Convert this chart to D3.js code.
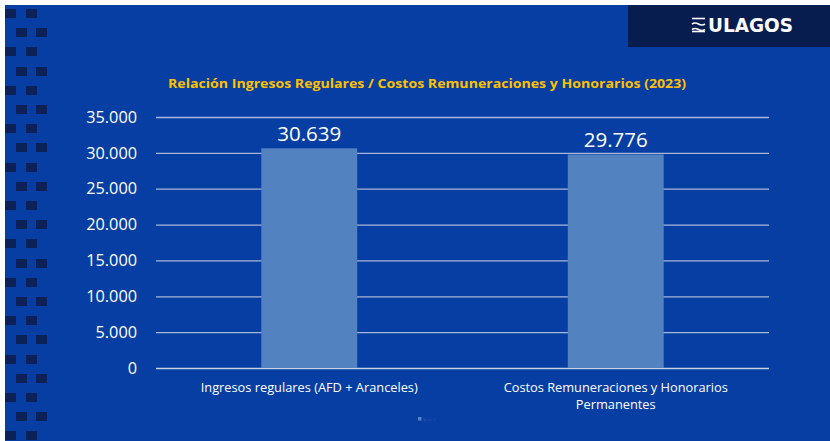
<!DOCTYPE html>
<html>
<head>
<meta charset="utf-8">
<script src="https://cdn.jsdelivr.net/npm/d3@7"></script>
<style>
  body { margin: 0; background: #fff; }
  svg { display: block; }
</style>
</head>
<body>
<div id="chart"></div>
<script>
// --------------------------------------
//  Data
// --------------------------------------

const categories = [
  ["Ingresos regulares (AFD + Aranceles)"],
  ["Costos Remuneraciones y Honorarios", "Permanentes"]
];
const values = [30639, 29776];
const yTicks = [0, 5000, 10000, 15000, 20000, 25000, 30000, 35000];
const title = "Relación Ingresos Regulares / Costos Remuneraciones y Honorarios (2023)";
const seriesName = "Serie 1";

const width = 830, height = 441;
const margin = { top: 117, right: 61, bottom: 73, left: 156 };
const innerwidth = width - margin.left - margin.right;
const innerheight = height - margin.top - margin.bottom;

const fmt = d3.formatLocale({ decimal: ",", thousands: ".", grouping: [3], currency: ["$", ""] }).format(",d");

// --------------------------------------
//  Canvas
// --------------------------------------

const svg = d3.select("#chart")
  .append("svg")
    .attr("width", width)
    .attr("height", height)
    .attr("viewBox", [0, 0, width, height]);

svg.append("rect")
  .attr("x", 5).attr("y", 5)
  .attr("width", width - 5).attr("height", height - 5)
  .attr("fill", "#063ea3");

// decorative squares on the left
const deco = svg.append("g").attr("fill", "#0b2158");
for (let i = 0; i < 23; i++) {
  const y = Math.round(9 + i * 19.2);
  const xs = i % 2 === 0 ? [5, 26] : [16, 36];
  xs.forEach(x => deco.append("rect").attr("x", x).attr("y", y).attr("width", 11).attr("height", 9));
}

// logo box
svg.append("rect")
  .attr("x", 628).attr("y", 5)
  .attr("width", width - 628).attr("height", 42)
  .attr("fill", "#071d50");

const icon = svg.append("g")
  .attr("stroke", "#fff").attr("stroke-width", 1.6).attr("fill", "none");
icon.append("path").attr("d", "M692,18.5 H705");
icon.append("path").attr("d", "M692,24 Q695,22 698.5,24 T705,24");
icon.append("path").attr("d", "M692,29.5 Q695,27.5 698.5,29.5 T705,29.5");
icon.append("path").attr("d", "M692,31.5 H705");

svg.append("text")
  .attr("x", 708).attr("y", 32)
  .attr("font-family", "DejaVu Sans, sans-serif")
  .attr("font-weight", "bold")
  .attr("font-size", 19)
  .attr("fill", "#fff")
  .attr("textLength", 85)
  .attr("lengthAdjust", "spacingAndGlyphs")
  .text("ULAGOS");

// title
svg.append("text")
  .attr("x", 427).attr("y", 88)
  .attr("text-anchor", "middle")
  .attr("font-family", "Open Sans, sans-serif")
  .attr("font-weight", "bold")
  .attr("font-size", 12.5)
  .attr("fill", "#ffc000")
  .attr("textLength", 518)
  .attr("lengthAdjust", "spacingAndGlyphs")
  .text(title);

const innerChart = svg
  .append("g")
    .attr("transform", `translate(${margin.left}, ${margin.top})`);

// --------------------------------------
//  Scales
// --------------------------------------

const x = d3.scaleBand()
  .domain(d3.range(values.length))
  .range([0, innerwidth])
  .paddingInner(0.687)
  .paddingOuter(0.3435);

const y = d3.scaleLinear()
  .domain([0, 35000])
  .range([innerheight, 0]);

// --------------------------------------
//  Gridlines and axes
// --------------------------------------

innerChart.append("g")
  .selectAll("line")
  .data(yTicks)
  .join("line")
    .attr("x1", 0).attr("x2", innerwidth)
    .attr("y1", d => y(d) + 0.5).attr("y2", d => y(d) + 0.5)
    .attr("stroke", d => d === 0 ? "#c8cfe0" : "#a9b6d6")
    .attr("stroke-width", 1.3);

innerChart.append("g")
  .attr("class", "y-axis")
  .call(d3.axisLeft(y)
    .tickValues(yTicks)
    .tickSize(0)
    .tickPadding(19)
    .tickFormat(fmt))
  .call(g => g.select(".domain").remove())
  .call(g => g.selectAll("text")
    .attr("fill", "#ffffff")
    .attr("font-family", "Open Sans, sans-serif")
    .attr("font-size", 16.3));

// --------------------------------------
//  Bars
// --------------------------------------

innerChart.append("g")
  .selectAll("rect")
  .data(values)
  .join("rect")
    .attr("x", (d, i) => x(i))
    .attr("width", x.bandwidth())
    .attr("y", d => y(d))
    .attr("height", d => y(0) - y(d))
    .attr("fill", "#5282c0");

innerChart.append("g")
  .selectAll("text")
  .data(values)
  .join("text")
    .attr("x", (d, i) => x(i) + x.bandwidth() / 2)
    .attr("y", d => y(d) - 7.5)
    .attr("text-anchor", "middle")
    .attr("font-family", "Open Sans, sans-serif")
    .attr("font-size", 20.5)
    .attr("fill", "#ffffff")
    .text(d => fmt(d));

// category labels
innerChart.append("g")
  .selectAll("text")
  .data(categories)
  .join("text")
    .attr("x", (d, i) => x(i) + x.bandwidth() / 2)
    .attr("y", innerheight + 24)
    .attr("text-anchor", "middle")
    .attr("font-family", "Open Sans, sans-serif")
    .attr("font-size", 12.8)
    .attr("fill", "#ffffff")
    .selectAll("tspan")
    .data(d => d)
    .join("tspan")
      .attr("x", function() { return this.parentNode.getAttribute("x"); })
      .attr("dy", (d, i) => i === 0 ? 0 : 17)
      .text(d => d);

// --------------------------------------
//  Legend
// --------------------------------------

const legend = svg.append("g").attr("transform", "translate(418, 417)");
legend.append("rect")
  .attr("width", 3.5).attr("height", 3.5)
  .attr("fill", "#5282c0");
legend.append("text")
  .attr("x", 5).attr("y", 3.5)
  .attr("font-family", "Open Sans, sans-serif")
  .attr("font-size", 4)
  .attr("fill", "#3a5ea8")
  .text(seriesName);
</script>
</body>
</html>
